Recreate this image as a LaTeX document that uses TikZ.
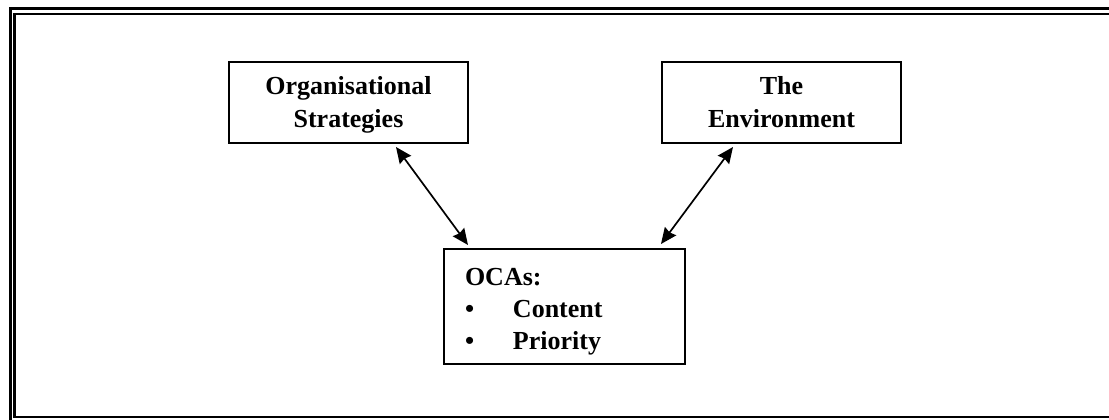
\documentclass[tikz,border=0pt]{standalone}
\usepackage{fontspec}
\setmainfont{Liberation Serif}
\usetikzlibrary{arrows.meta}

\tikzset{
  framebox/.style={draw=black, line width=1pt, inner sep=0pt,
    font={\fontsize{13pt}{16.7pt}\selectfont\bfseries}},
  link/.style={line width=0.85pt,
    {Stealth[length=8pt,width=7pt,inset=0.8pt]}-{Stealth[length=8pt,width=7pt,inset=0.8pt]}}
}

\begin{document}
\begin{tikzpicture}[x=0.5pt, y=-0.5pt]
  \useasboundingbox (0,0) rectangle (1109,419);
  \clip (0,0) rectangle (1109,419);

  % thick-thin page border
  \draw[line width=1.5pt] (10.5,8.5) rectangle (1118,424);
  \draw[line width=1.25pt] (14.3,14) rectangle (1113,417);

  % the three boxes
  \node[framebox, minimum width=119.5pt, minimum height=40.5pt, align=center]
    (org) at (348.5,102.5)
    {\rule{0pt}{11.5pt}Organisational\\Strategies\rule[-3pt]{0pt}{3pt}};
  \node[framebox, minimum width=119.5pt, minimum height=40.5pt, align=center]
    (env) at (781.5,102.5)
    {\rule{0pt}{11.5pt}The\\Environment\rule[-3pt]{0pt}{3pt}};
  \node[framebox, minimum height=57.5pt, inner xsep=10.5pt, text width=99.5pt,
    align=left, font={\fontsize{13pt}{16pt}\selectfont\bfseries}]
    (oca) at (564.5,306.5)
    {\rule{0pt}{13.5pt}OCAs:\\
     \makebox[24pt][l]{\textbullet}Content\\
     \makebox[24pt][l]{\textbullet}Priority\rule[-3pt]{0pt}{3pt}};

  % two-way links
  \draw[link] ([xshift=84pt,yshift=-1.5pt]org.south west)
           -- ([xshift=12.5pt,yshift=1.5pt]oca.north west);
  \draw[link] ([xshift=36pt,yshift=-1.5pt]env.south west)
           -- ([xshift=109pt,yshift=2pt]oca.north west);
\end{tikzpicture}
\end{document}
